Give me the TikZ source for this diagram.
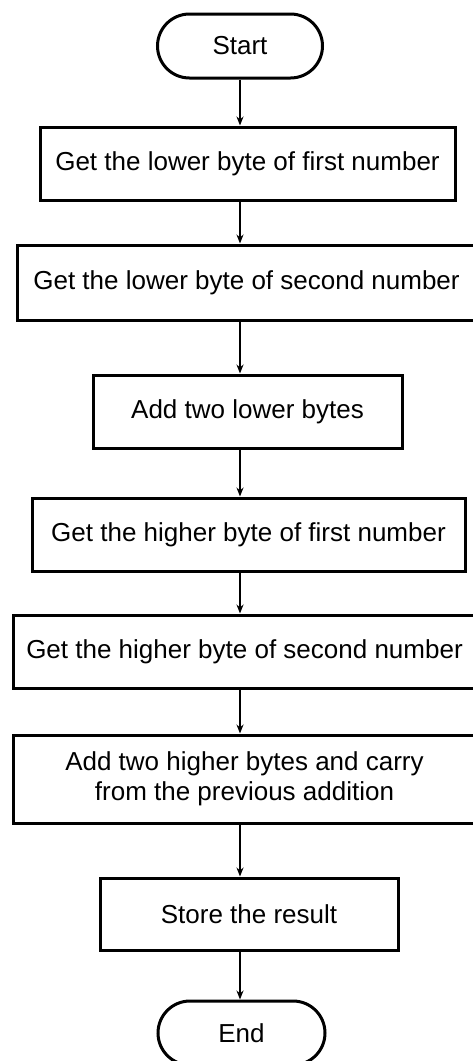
\documentclass[tikz,border=0pt]{standalone}
\usepackage{fontspec}
\setmainfont{Liberation Sans}
\usetikzlibrary{arrows.meta}
\begin{document}
\begin{tikzpicture}[x=1pt,y=-1pt,
  box/.style={draw, line width=3pt, inner sep=0pt, align=center,
    font=\fontsize{26}{30}\selectfont},
  term/.style={box, rounded corners=32pt},
  arr/.style={line width=1.8pt, -{Stealth[length=9pt,width=7pt]}}]
\useasboundingbox (0,0) rectangle (472,1061);
\node[term, minimum width=165pt, minimum height=64pt] (start) at (240,46) {Start};
\node[box, minimum width=415pt, minimum height=73pt] (b1) at (247.5,163.5) {Get the lower byte of first number};
\node[box, minimum width=459pt, minimum height=75pt] (b2) at (246.5,282.5) {Get the lower byte of second number};
\node[box, minimum width=309pt, minimum height=73pt] (b3) at (247.5,411.5) {Add two lower bytes};
\node[box, minimum width=433pt, minimum height=73pt] (b4) at (248.5,534.5) {Get the higher byte of first number};
\node[box, minimum width=463pt, minimum height=73pt] (b5) at (244.5,651.5) {Get the higher byte of second number};
\node[box, minimum width=463pt, minimum height=88pt] (b6) at (244.5,779) {Add two higher bytes and carry\\from the previous addition};
\node[box, minimum width=298pt, minimum height=72pt] (b7) at (249,914) {Store the result};
\node[term, minimum width=167pt, minimum height=64pt] (end) at (241.5,1033) {End};
\draw[arr] (start.south) -- (b1.north -| start);
\draw[arr] (b1.south -| start) -- (b2.north -| start);
\draw[arr] (b2.south -| start) -- (b3.north -| start);
\draw[arr] (b3.south -| start) -- (b4.north -| start);
\draw[arr] (b4.south -| start) -- (b5.north -| start);
\draw[arr] (b5.south -| start) -- (b6.north -| start);
\draw[arr] (b6.south -| start) -- (b7.north -| start);
\draw[arr] (b7.south -| start) -- (end.north -| start);
\end{tikzpicture}
\end{document}
